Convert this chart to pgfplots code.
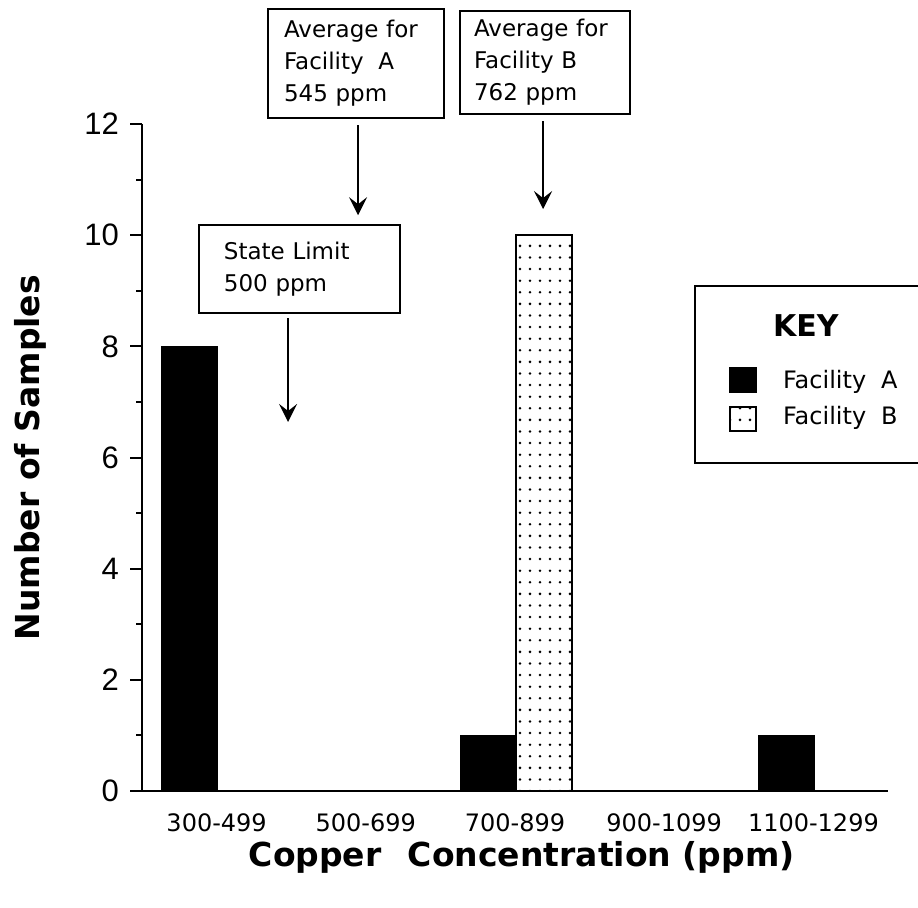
\documentclass[border=0pt]{standalone}
\usepackage{fontspec}
\setmainfont{DejaVu Sans}
\newfontfamily\helv{Liberation Sans}
\usepackage{pgfplots}
\pgfplotsset{compat=1.18}
\usetikzlibrary{patterns,arrows.meta}
\pgfdeclarepatternformonly{sparsedots}{\pgfqpoint{-1pt}{-1pt}}{\pgfqpoint{1pt}{1pt}}{\pgfqpoint{5pt}{5.8pt}}{\pgfpathcircle{\pgfqpoint{0pt}{0pt}}{0.7pt}\pgfusepath{fill}}

\begin{document}
\begin{tikzpicture}
\begin{axis}[
  scale only axis, width=373pt, height=333.5pt,
  xmin=-0.5, xmax=4.5, ymin=0, ymax=12,
  axis lines*=left,
  axis line style={line width=1pt},
  tick align=outside,
  major tick length=6pt, minor tick length=3pt,
  tick style={black, line width=1pt},
  xtick=\empty,
  minor xtick={-0.5,0.5,1.5,2.5,3.5,4.5},
  extra x ticks={0,1,2,3,4},
  extra x tick labels={300-499,500-699,700-899,900-1099,1100-1299},
  extra x tick style={major tick length=0pt, tick label style={font=\fontsize{12}{14}\selectfont, yshift=-8pt}},
  ytick={0,2,4,6,8,10,12},
  minor ytick={1,3,5,7,9,11},
  yticklabel style={font=\helv\fontsize{15.5}{18}\selectfont, xshift=-2pt},
  /pgf/number format/assume math mode=true,
  ylabel={Number of Samples},
  xlabel={Copper\hspace{0.45em} Concentration (ppm)},
  ylabel style={at={(axis description cs:-0.150,0.5)}, anchor=center, font=\bfseries\fontsize{16.5}{20}\selectfont},
  xlabel style={at={(axis description cs:0.509,-0.100)}, anchor=center, font=\bfseries\fontsize{16.5}{20}\selectfont},
  clip=false,
  legend cell align=left,
  legend image code/.code={\draw[#1] (0pt,-5pt) rectangle (13pt,7pt);},
  legend style={at={(axis cs:3.20,9.10)}, anchor=north west, draw=black, line width=1pt,
    inner xsep=17pt, inner ysep=14pt, column sep=13pt, row sep=6pt,
    nodes={inner sep=0pt, text depth=}, font=\fontsize{12}{14}\selectfont},
]
\addlegendimage{empty legend}
\addlegendentry{\hspace*{-5pt}\fontsize{15}{18}\selectfont\bfseries KEY\rule[-9.5pt]{0pt}{9.5pt}}
\addplot[ybar, bar width=0.375, bar shift=-0.18, fill=black, draw=black] coordinates {(0,8) (1,0) (2,1) (3,0) (4,1)};
\addlegendentry{Facility\hspace{0.3em} A}
\addplot[ybar, bar width=0.375, bar shift=0.195, pattern=sparsedots, draw=black, line width=1pt] coordinates {(0,0) (1,0) (2,10) (3,0) (4,0)};
\addlegendentry{Facility\hspace{0.3em} B\rule[-5pt]{0pt}{5pt}}

\node[draw, line width=1pt, anchor=north west, inner xsep=8pt, inner ysep=0pt, text width=72pt, minimum height=54.5pt, align=left, font=\fontsize{11.5}{16}\selectfont] at (axis cs:0.338,14.09) {Average for\\Facility\hspace{0.3em} A\\545 ppm};
\node[draw, line width=1pt, anchor=north west, inner xsep=7pt, inner ysep=0pt, text width=71pt, minimum height=51.5pt, align=left, font=\fontsize{11.5}{16}\selectfont] at (axis cs:1.625,14.05) {Average for\\Facility B\\762 ppm};
\node[draw, line width=1pt, anchor=north west, inner xsep=12.5pt, inner ysep=0pt, text width=75.5pt, minimum height=44pt, align=left, font=\fontsize{11.5}{16}\selectfont] at (axis cs:-0.125,10.20) {State Limit\\500 ppm};

\draw[line width=1pt, -{Stealth[length=9pt,width=9pt,inset=3.5pt]}] (axis cs:0.948,11.98) -- (axis cs:0.948,10.36);
\draw[line width=1pt, -{Stealth[length=9pt,width=9pt,inset=3.5pt]}] (axis cs:2.188,12.05) -- (axis cs:2.188,10.47);
\draw[line width=1pt, -{Stealth[length=9pt,width=9pt,inset=3.5pt]}] (axis cs:0.479,8.51) -- (axis cs:0.479,6.64);

\coordinate (bbll) at (axis cs:-1.452,-2.087);
\coordinate (bbur) at (axis cs:4.701,14.232);
\end{axis}
\pgfresetboundingbox
\useasboundingbox (bbll) rectangle (bbur);
\end{tikzpicture}
\end{document}
